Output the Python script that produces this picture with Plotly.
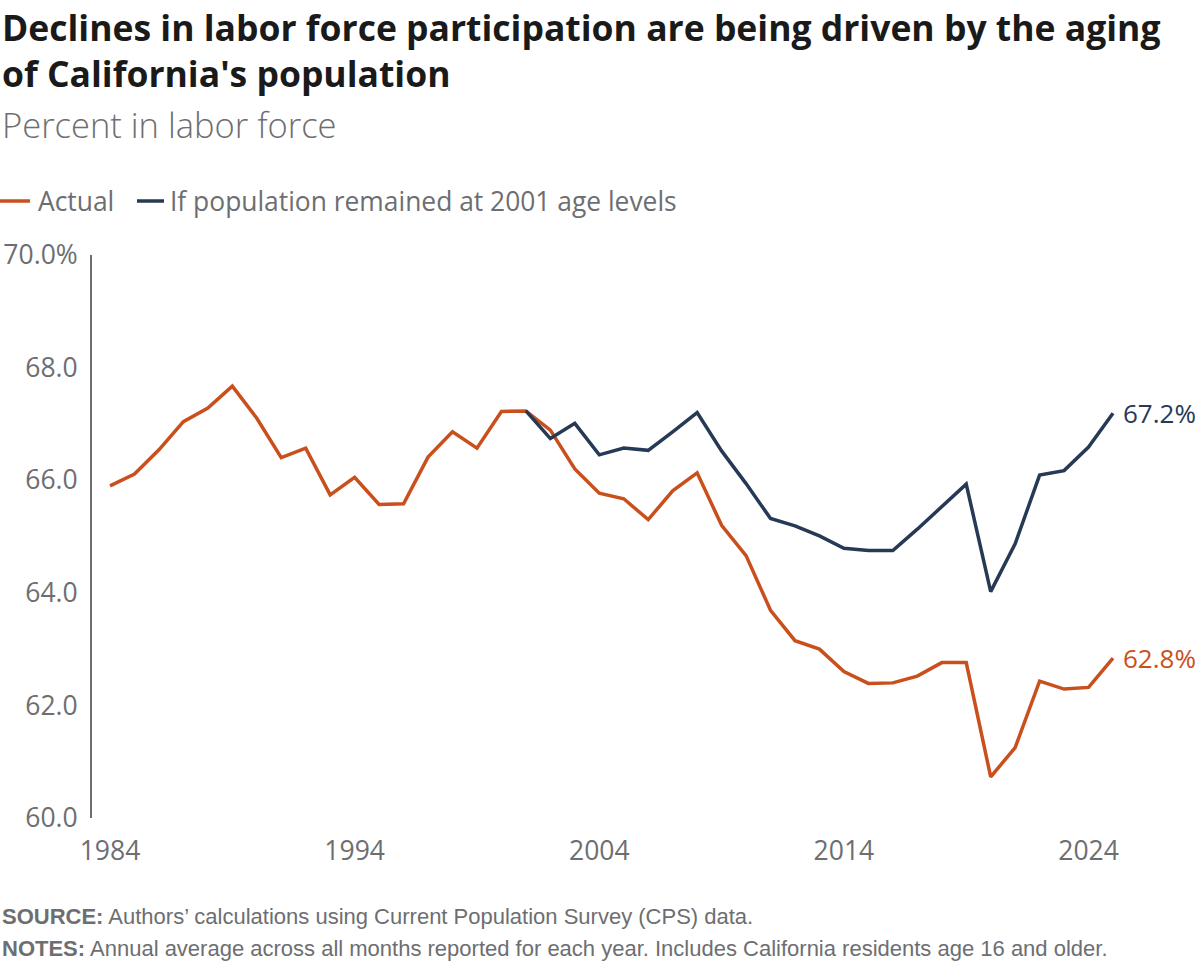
import plotly.graph_objects as go

years = list(range(1984, 2026))
actual = [65.90, 66.11, 66.54, 67.04, 67.28, 67.67, 67.10, 66.40, 66.57, 65.74,
          66.05, 65.57, 65.58, 66.41, 66.86, 66.57, 67.22, 67.23, 66.89, 66.20,
          65.77, 65.67, 65.30, 65.81, 66.13, 65.20, 64.66, 63.69, 63.15, 63.00,
          62.60, 62.39, 62.40, 62.52, 62.76, 62.76, 60.73, 61.25, 62.43, 62.29,
          62.32, 62.84]
cf_years = list(range(2001, 2026))
counterfactual = [67.23, 66.74, 67.01, 66.45, 66.57, 66.53, 66.86, 67.20, 66.52, 65.94,
                  65.32, 65.19, 65.01, 64.79, 64.75, 64.75, 65.13, 65.54, 65.93, 64.02,
                  64.87, 66.09, 66.17, 66.59, 67.19]
y_tickvals = [60, 62, 64, 66, 68, 70]
y_ticktext = ["60.0", "62.0", "64.0", "66.0", "68.0", "70.0%"]
x_tickvals = [1984, 1994, 2004, 2014, 2024]
series_names = ["Actual", "If population remained at 2001 age levels"]

ORANGE = "#C94F1C"
NAVY = "#263A56"
GRAY = "#6D6E71"
FONT = "Open Sans"

W, H = 1200, 968
L, R, T, B = 92, 80, 255, 150
PW, PH = W - L - R, H - T - B


def px_x(x):
    return (x - L) / PW


def px_y(y):
    return 1 - (y - T) / PH


fig = go.Figure()
fig.add_trace(go.Scatter(x=years, y=actual, mode="lines", name=series_names[0],
                         line=dict(color=ORANGE, width=3.5)))
fig.add_trace(go.Scatter(x=cf_years, y=counterfactual, mode="lines", name=series_names[1],
                         line=dict(color=NAVY, width=3.5)))

fig.add_annotation(x=years[-1], y=actual[-1], text=f"{actual[-1]:.1f}%", showarrow=False,
                   xanchor="left", xshift=8, font=dict(family=FONT, size=26, color=ORANGE))
fig.add_annotation(x=cf_years[-1], y=counterfactual[-1], text=f"{counterfactual[-1]:.1f}%",
                   showarrow=False, xanchor="left", xshift=8,
                   font=dict(family=FONT, size=26, color=NAVY))

# title / subtitle
fig.add_annotation(xref="paper", yref="paper", x=px_x(0), y=px_y(50), xanchor="left", yanchor="middle",
                   align="left", showarrow=False,
                   text="<b>Declines in labor force participation are being driven by the aging<br>of California's population</b>",
                   font=dict(family=FONT, size=35.5, color="#1A1A1A"))
fig.add_annotation(xref="paper", yref="paper", x=px_x(0), y=px_y(125), xanchor="left", yanchor="middle",
                   align="left", showarrow=False, text="Percent in labor force",
                   font=dict(family=FONT, size=34.5, color=GRAY, weight=300))

# legend (manual)
LEG_Y = 201
fig.add_shape(type="line", xref="paper", yref="paper", x0=px_x(0), x1=px_x(30),
              y0=px_y(LEG_Y), y1=px_y(LEG_Y), line=dict(color=ORANGE, width=3.5))
fig.add_annotation(xref="paper", yref="paper", x=px_x(36), y=px_y(LEG_Y), xanchor="left",
                   yanchor="middle", showarrow=False, text=series_names[0],
                   font=dict(family=FONT, size=26.4, color=GRAY))
fig.add_shape(type="line", xref="paper", yref="paper", x0=px_x(137), x1=px_x(164),
              y0=px_y(LEG_Y), y1=px_y(LEG_Y), line=dict(color=NAVY, width=3.5))
fig.add_annotation(xref="paper", yref="paper", x=px_x(168), y=px_y(LEG_Y), xanchor="left",
                   yanchor="middle", showarrow=False, text=series_names[1],
                   font=dict(family=FONT, size=26.4, color=GRAY))

# footnotes
fig.add_annotation(xref="paper", yref="paper", x=px_x(0), y=px_y(916), xanchor="left", yanchor="middle",
                   align="left", showarrow=False,
                   text="<b>SOURCE:</b> Authors\u2019 calculations using Current Population Survey (CPS) data.",
                   font=dict(family="Liberation Sans", size=22, color=GRAY))
fig.add_annotation(xref="paper", yref="paper", x=px_x(0), y=px_y(948), xanchor="left", yanchor="middle",
                   align="left", showarrow=False,
                   text="<b>NOTES:</b> Annual average across all months reported for each year. Includes California residents age 16 and older.",
                   font=dict(family="Liberation Sans", size=22, color=GRAY))

fig.update_layout(
    width=W, height=H,
    margin=dict(l=L, r=R, t=T, b=B, autoexpand=False),
    paper_bgcolor="white", plot_bgcolor="white",
    font=dict(family=FONT, color=GRAY),
    showlegend=False,
    xaxis=dict(range=[1983.264, 2025.286], tickvals=x_tickvals, showgrid=False, automargin=False,
               zeroline=False, showline=False, ticks="", ticklabelstandoff=14,
               tickfont=dict(family=FONT, size=26.5, color=GRAY)),
    yaxis=dict(range=[60, 70], tickvals=y_tickvals, ticktext=y_ticktext, showgrid=False,
               automargin=False, zeroline=False, showline=True, linecolor=GRAY, linewidth=2,
               ticks="", ticklabelstandoff=7, tickfont=dict(family=FONT, size=26.5, color=GRAY)),
)

fig.write_html("out.html")
